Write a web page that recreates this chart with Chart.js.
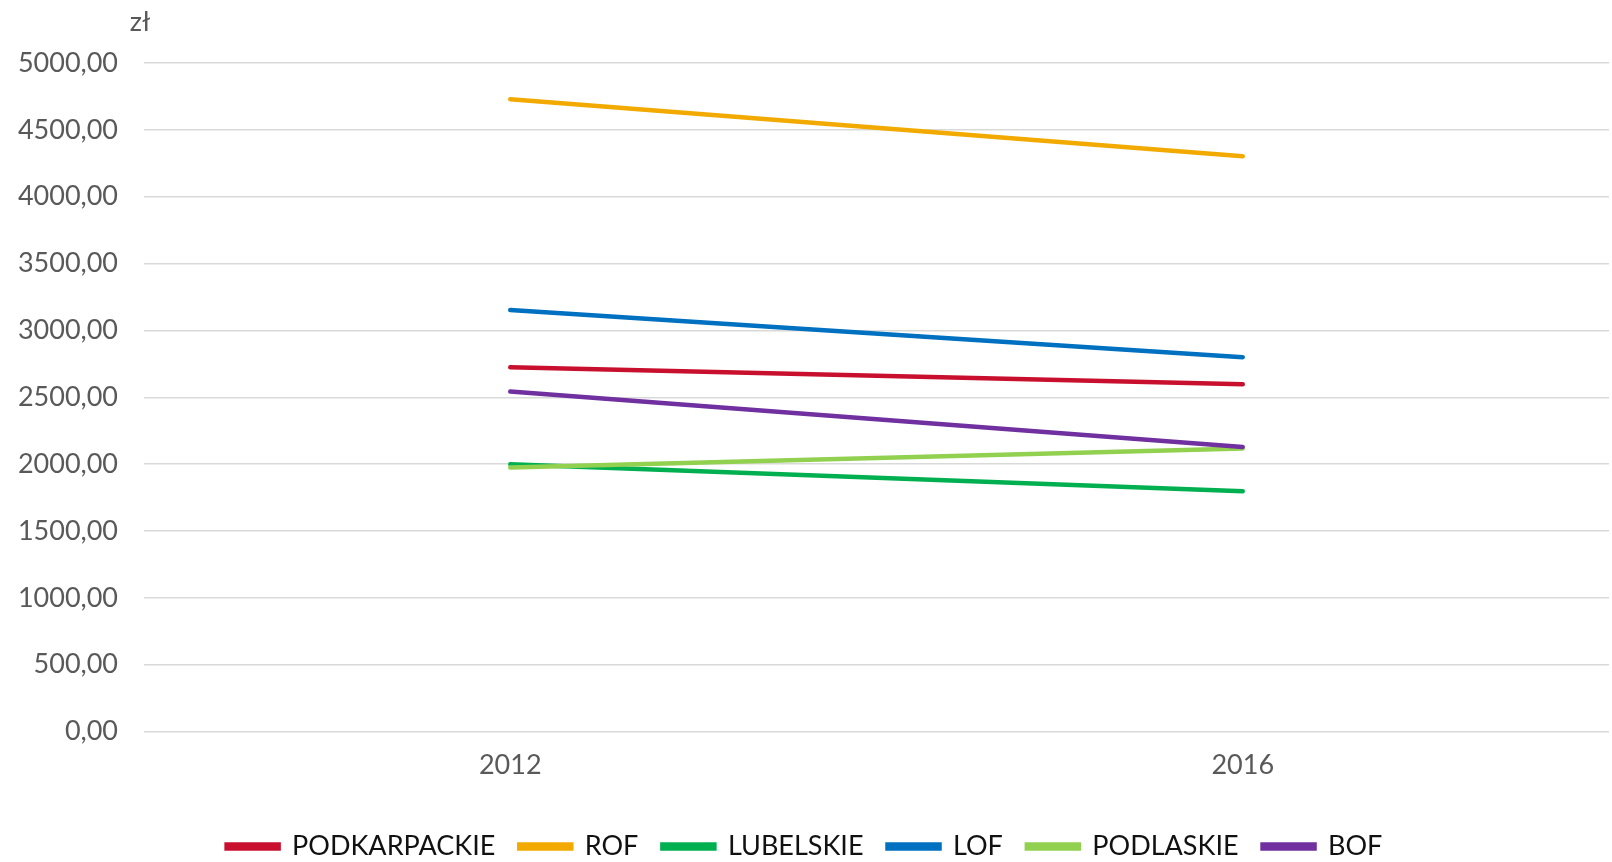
<!DOCTYPE html>
<html>
<head>
<meta charset="utf-8">
<title>Wynagrodzenia 2012-2016</title>
<script src="https://cdn.jsdelivr.net/npm/chart.js@4"></script>
<style>
  html, body { margin: 0; padding: 0; background: #ffffff; }
  #wrap { width: 1612px; height: 862px; }
</style>
</head>
<body>
<div id="wrap"><canvas id="wagesChart"></canvas></div>
<script>
// Lata i wartości serii (zł)
const years = ['2012', '2016'];
const podkarpackie = [2725, 2598];
const rof = [4729, 4302];
const lubelskie = [2000, 1798];
const lof = [3152, 2800];
const podlaskie = [1975, 2118];
const bof = [2543, 2129];

const seriesNames = ['PODKARPACKIE', 'ROF', 'LUBELSKIE', 'LOF', 'PODLASKIE', 'BOF'];
const seriesData = [podkarpackie, rof, lubelskie, lof, podlaskie, bof];
const seriesColors = ['#C8102E', '#F2AA00', '#00B050', '#0070C0', '#92D050', '#7030A0'];

const FONT = 'Lato';

// jednostka nad osią Y
const unitLabel = {
    id: 'unitLabel',
    afterDraw(chart) {
        const ctx = chart.ctx;
        ctx.save();
        ctx.font = '27px ' + FONT;
        ctx.fillStyle = '#595959';
        ctx.textAlign = 'center';
        ctx.textBaseline = 'middle';
        ctx.fillText('zł', chart.chartArea.left - 4, 22);
        ctx.restore();
    }
};

const ctx = document.getElementById('wagesChart').getContext('2d');
window.wagesChartInstance = new Chart(ctx, {
    type: 'line',
    data: {
        labels: years,
        datasets: seriesNames.map((name, i) => ({
            label: name,
            data: seriesData[i],
            borderColor: seriesColors[i],
            backgroundColor: seriesColors[i],
            borderWidth: 4.5,
            borderCapStyle: 'round',
            pointRadius: 0,
            tension: 0,
            // later series on top, like the spreadsheet
            order: seriesNames.length - i
        }))
    },
    options: {
        responsive: true,
        maintainAspectRatio: false,
        animation: false,
        layout: { padding: { top: 63, right: 3, left: 0, bottom: -8 } },
        plugins: {
            legend: {
                position: 'bottom',
                // empty title only adds a bit of space above the legend row
                title: { display: true, text: '', padding: 0, font: { size: 19, lineHeight: 1 } },
                labels: {
                    font: { family: FONT, size: 27 },
                    color: '#111111',
                    boxWidth: 52,
                    boxHeight: 4,
                    padding: 24,
                    sort: (a, b) => a.datasetIndex - b.datasetIndex
                }
            },
            tooltip: { enabled: false }
        },
        scales: {
            x: {
                offset: true,
                grid: { display: false },
                border: { display: false },
                ticks: {
                    color: '#595959',
                    font: { family: FONT, size: 27 },
                    padding: 9
                }
            },
            y: {
                min: 0,
                max: 5000,
                border: { display: false },
                grid: { color: '#d9d9d9', lineWidth: 1.5, drawTicks: false },
                afterFit: scale => { scale.width = 144; },
                ticks: {
                    stepSize: 500,
                    padding: 26,
                    color: '#595959',
                    font: { family: FONT, size: 27 },
                    callback: v => v.toFixed(2).replace('.', ',')
                }
            }
        }
    },
    plugins: [unitLabel]
});
</script>
</body>
</html>
